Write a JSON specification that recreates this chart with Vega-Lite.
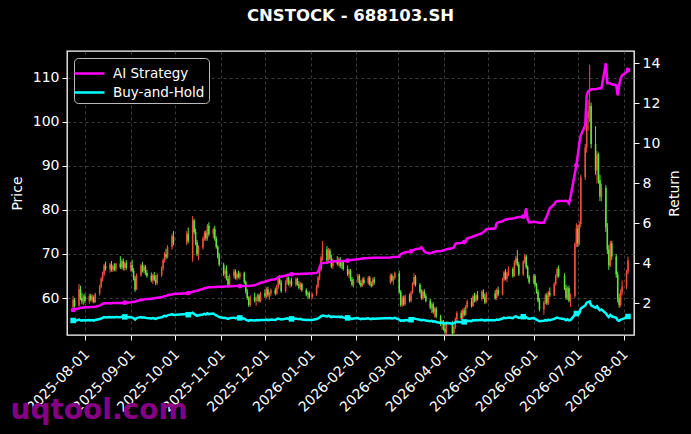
{
  "$schema": "https://vega.github.io/schema/vega-lite/v6.json",
  "width": 567,
  "height": 284,
  "autosize": {"type": "none"},
  "padding": {"left": 67, "top": 51, "right": 57, "bottom": 99},
  "background": "black",
  "title": {"text": "CNSTOCK - 688103.SH", "color": "white", "fontSize": 16.5, "fontWeight": "bold", "font": "DejaVu Sans", "offset": 27, "frame": "group"},
  "data": {
    "values": [
      {"d":"2025-07-24","o":58.0,"h":60.5,"l":57.5,"c":59.6,"ai":1.67,"bh":1.14},
      {"d":"2025-07-25","o":59.6,"h":60.0,"l":57.8,"c":58.2,"ai":1.70,"bh":1.11},
      {"d":"2025-07-28","o":58.3,"h":63.2,"l":58.0,"c":62.0,"ai":1.74,"bh":1.19},
      {"d":"2025-07-29","o":62.0,"h":62.8,"l":59.5,"c":60.0,"ai":1.78,"bh":1.15},
      {"d":"2025-07-30","o":60.0,"h":61.2,"l":58.6,"c":59.2,"ai":1.78,"bh":1.13},
      {"d":"2025-07-31","o":59.2,"h":60.8,"l":58.4,"c":60.4,"ai":1.79,"bh":1.16},
      {"d":"2025-08-01","o":60.4,"h":61.0,"l":58.8,"c":59.3,"ai":1.80,"bh":1.14},
      {"d":"2025-08-04","o":59.3,"h":60.9,"l":58.7,"c":60.5,"ai":1.80,"bh":1.16},
      {"d":"2025-08-05","o":60.5,"h":61.0,"l":59.2,"c":59.6,"ai":1.81,"bh":1.14},
      {"d":"2025-08-06","o":59.6,"h":60.8,"l":59.0,"c":60.2,"ai":1.81,"bh":1.16},
      {"d":"2025-08-07","o":60.2,"h":60.6,"l":58.8,"c":59.1,"ai":1.82,"bh":1.13},
      {"d":"2025-08-08","o":59.1,"h":61.2,"l":58.9,"c":60.9,"ai":1.83,"bh":1.17},
      {"d":"2025-08-11","o":61.0,"h":63.0,"l":60.6,"c":62.6,"ai":1.88,"bh":1.21},
      {"d":"2025-08-12","o":62.6,"h":64.8,"l":62.2,"c":64.3,"ai":1.93,"bh":1.24},
      {"d":"2025-08-13","o":64.3,"h":66.0,"l":63.8,"c":65.4,"ai":1.97,"bh":1.27},
      {"d":"2025-08-14","o":65.4,"h":67.8,"l":65.0,"c":67.3,"ai":2.00,"bh":1.31},
      {"d":"2025-08-15","o":67.3,"h":68.3,"l":66.2,"c":66.6,"ai":2.00,"bh":1.29},
      {"d":"2025-08-18","o":66.6,"h":68.0,"l":65.8,"c":67.6,"ai":2.00,"bh":1.31},
      {"d":"2025-08-19","o":67.6,"h":68.4,"l":66.0,"c":66.4,"ai":2.00,"bh":1.29},
      {"d":"2025-08-20","o":66.4,"h":67.6,"l":65.9,"c":67.2,"ai":2.01,"bh":1.31},
      {"d":"2025-08-21","o":67.2,"h":67.9,"l":66.1,"c":66.5,"ai":2.01,"bh":1.29},
      {"d":"2025-08-22","o":66.5,"h":68.0,"l":66.0,"c":67.8,"ai":2.01,"bh":1.32},
      {"d":"2025-08-25","o":67.8,"h":69.5,"l":66.6,"c":67.0,"ai":2.02,"bh":1.30},
      {"d":"2025-08-26","o":67.0,"h":68.8,"l":66.5,"c":68.4,"ai":2.02,"bh":1.33},
      {"d":"2025-08-27","o":68.4,"h":69.0,"l":66.3,"c":66.8,"ai":2.02,"bh":1.30},
      {"d":"2025-08-28","o":66.8,"h":68.2,"l":66.2,"c":67.9,"ai":2.03,"bh":1.32},
      {"d":"2025-08-29","o":67.9,"h":68.6,"l":66.4,"c":66.9,"ai":2.03,"bh":1.30},
      {"d":"2025-09-01","o":66.9,"h":68.2,"l":66.0,"c":67.5,"ai":2.05,"bh":1.31},
      {"d":"2025-09-02","o":67.5,"h":68.7,"l":65.8,"c":66.2,"ai":2.06,"bh":1.28},
      {"d":"2025-09-03","o":66.2,"h":66.8,"l":64.0,"c":64.5,"ai":2.06,"bh":1.25},
      {"d":"2025-09-04","o":64.5,"h":65.0,"l":61.4,"c":61.9,"ai":2.07,"bh":1.19},
      {"d":"2025-09-05","o":62.0,"h":65.6,"l":61.8,"c":65.2,"ai":2.12,"bh":1.26},
      {"d":"2025-09-08","o":65.2,"h":67.8,"l":64.8,"c":67.4,"ai":2.16,"bh":1.31},
      {"d":"2025-09-09","o":67.4,"h":68.2,"l":65.8,"c":66.2,"ai":2.17,"bh":1.28},
      {"d":"2025-09-10","o":66.2,"h":67.6,"l":65.6,"c":67.1,"ai":2.19,"bh":1.30},
      {"d":"2025-09-11","o":67.1,"h":67.5,"l":65.2,"c":65.7,"ai":2.20,"bh":1.27},
      {"d":"2025-09-12","o":65.7,"h":66.4,"l":64.6,"c":65.0,"ai":2.21,"bh":1.26},
      {"d":"2025-09-15","o":65.0,"h":65.8,"l":63.6,"c":64.0,"ai":2.22,"bh":1.24},
      {"d":"2025-09-16","o":64.0,"h":65.5,"l":63.2,"c":65.1,"ai":2.24,"bh":1.26},
      {"d":"2025-09-17","o":65.1,"h":65.9,"l":63.8,"c":64.2,"ai":2.25,"bh":1.24},
      {"d":"2025-09-18","o":64.2,"h":65.2,"l":62.9,"c":63.4,"ai":2.26,"bh":1.22},
      {"d":"2025-09-19","o":63.4,"h":65.6,"l":63.0,"c":65.2,"ai":2.28,"bh":1.26},
      {"d":"2025-09-22","o":65.2,"h":67.2,"l":64.8,"c":66.8,"ai":2.30,"bh":1.30},
      {"d":"2025-09-23","o":66.8,"h":69.0,"l":66.2,"c":68.6,"ai":2.33,"bh":1.34},
      {"d":"2025-09-24","o":68.6,"h":70.5,"l":68.0,"c":70.0,"ai":2.36,"bh":1.37},
      {"d":"2025-09-25","o":70.0,"h":71.2,"l":68.8,"c":69.3,"ai":2.37,"bh":1.35},
      {"d":"2025-09-26","o":69.3,"h":72.0,"l":69.0,"c":71.6,"ai":2.40,"bh":1.40},
      {"d":"2025-09-29","o":71.6,"h":74.6,"l":71.0,"c":74.0,"ai":2.44,"bh":1.45},
      {"d":"2025-09-30","o":74.0,"h":75.2,"l":72.0,"c":72.6,"ai":2.46,"bh":1.42},
      {"d":"2025-10-09","o":72.6,"h":75.2,"l":72.0,"c":74.6,"ai":2.50,"bh":1.47},
      {"d":"2025-10-10","o":74.6,"h":76.0,"l":72.4,"c":73.0,"ai":2.51,"bh":1.43},
      {"d":"2025-10-13","o":69.0,"h":78.6,"l":68.2,"c":77.6,"ai":2.58,"bh":1.53},
      {"d":"2025-10-14","o":77.6,"h":78.0,"l":74.5,"c":75.0,"ai":2.60,"bh":1.47},
      {"d":"2025-10-15","o":75.0,"h":75.8,"l":72.0,"c":72.6,"ai":2.61,"bh":1.42},
      {"d":"2025-10-16","o":72.6,"h":73.2,"l":69.5,"c":70.0,"ai":2.62,"bh":1.37},
      {"d":"2025-10-17","o":70.0,"h":72.0,"l":68.6,"c":71.5,"ai":2.66,"bh":1.40},
      {"d":"2025-10-20","o":71.5,"h":74.0,"l":71.0,"c":73.6,"ai":2.72,"bh":1.44},
      {"d":"2025-10-21","o":73.6,"h":75.2,"l":73.0,"c":74.8,"ai":2.75,"bh":1.47},
      {"d":"2025-10-22","o":74.8,"h":75.4,"l":73.0,"c":73.5,"ai":2.76,"bh":1.44},
      {"d":"2025-10-23","o":73.5,"h":76.8,"l":73.0,"c":76.4,"ai":2.79,"bh":1.50},
      {"d":"2025-10-24","o":76.4,"h":77.2,"l":74.0,"c":74.5,"ai":2.80,"bh":1.46},
      {"d":"2025-10-27","o":74.5,"h":76.0,"l":73.6,"c":75.6,"ai":2.81,"bh":1.49},
      {"d":"2025-10-28","o":75.6,"h":76.4,"l":73.0,"c":73.4,"ai":2.82,"bh":1.44},
      {"d":"2025-10-29","o":73.4,"h":74.0,"l":71.2,"c":71.6,"ai":2.82,"bh":1.40},
      {"d":"2025-10-30","o":71.6,"h":72.0,"l":69.0,"c":69.4,"ai":2.83,"bh":1.35},
      {"d":"2025-10-31","o":69.4,"h":70.2,"l":67.2,"c":67.6,"ai":2.83,"bh":1.31},
      {"d":"2025-11-03","o":67.6,"h":68.0,"l":65.0,"c":65.5,"ai":2.83,"bh":1.27},
      {"d":"2025-11-04","o":65.5,"h":66.8,"l":64.5,"c":66.2,"ai":2.84,"bh":1.28},
      {"d":"2025-11-05","o":66.2,"h":67.4,"l":64.0,"c":64.4,"ai":2.84,"bh":1.25},
      {"d":"2025-11-06","o":64.4,"h":65.0,"l":62.4,"c":63.0,"ai":2.84,"bh":1.22},
      {"d":"2025-11-07","o":63.0,"h":65.4,"l":62.8,"c":65.0,"ai":2.85,"bh":1.26},
      {"d":"2025-11-10","o":65.0,"h":66.6,"l":64.4,"c":66.0,"ai":2.86,"bh":1.28},
      {"d":"2025-11-11","o":66.0,"h":66.5,"l":64.2,"c":64.6,"ai":2.86,"bh":1.25},
      {"d":"2025-11-12","o":64.6,"h":65.8,"l":64.0,"c":65.4,"ai":2.86,"bh":1.27},
      {"d":"2025-11-13","o":65.4,"h":66.2,"l":64.4,"c":64.8,"ai":2.86,"bh":1.25},
      {"d":"2025-11-14","o":64.8,"h":66.0,"l":64.2,"c":65.7,"ai":2.86,"bh":1.27},
      {"d":"2025-11-17","o":65.7,"h":66.0,"l":63.2,"c":63.6,"ai":2.86,"bh":1.23},
      {"d":"2025-11-18","o":63.6,"h":64.0,"l":61.0,"c":61.4,"ai":2.86,"bh":1.18},
      {"d":"2025-11-19","o":61.4,"h":62.0,"l":59.6,"c":60.0,"ai":2.86,"bh":1.15},
      {"d":"2025-11-20","o":60.0,"h":60.4,"l":58.0,"c":58.4,"ai":2.86,"bh":1.12},
      {"d":"2025-11-21","o":58.4,"h":60.6,"l":58.0,"c":60.2,"ai":2.88,"bh":1.16},
      {"d":"2025-11-24","o":60.2,"h":61.2,"l":59.0,"c":59.4,"ai":2.90,"bh":1.14},
      {"d":"2025-11-25","o":59.4,"h":60.4,"l":58.2,"c":60.0,"ai":2.93,"bh":1.15},
      {"d":"2025-11-26","o":60.0,"h":61.0,"l":59.2,"c":60.6,"ai":2.96,"bh":1.16},
      {"d":"2025-11-27","o":60.6,"h":61.0,"l":59.0,"c":59.3,"ai":2.99,"bh":1.14},
      {"d":"2025-11-28","o":59.3,"h":61.4,"l":59.0,"c":61.0,"ai":3.03,"bh":1.17},
      {"d":"2025-12-01","o":61.0,"h":62.0,"l":60.0,"c":60.4,"ai":3.08,"bh":1.16},
      {"d":"2025-12-02","o":60.4,"h":62.4,"l":60.0,"c":62.0,"ai":3.11,"bh":1.19},
      {"d":"2025-12-03","o":62.0,"h":62.6,"l":60.2,"c":60.6,"ai":3.13,"bh":1.16},
      {"d":"2025-12-04","o":60.6,"h":61.4,"l":59.6,"c":61.0,"ai":3.15,"bh":1.17},
      {"d":"2025-12-05","o":61.0,"h":62.2,"l":60.4,"c":61.8,"ai":3.18,"bh":1.19},
      {"d":"2025-12-08","o":61.8,"h":62.4,"l":60.6,"c":61.0,"ai":3.20,"bh":1.17},
      {"d":"2025-12-09","o":61.0,"h":63.0,"l":60.8,"c":62.6,"ai":3.24,"bh":1.21},
      {"d":"2025-12-10","o":62.6,"h":64.6,"l":62.0,"c":64.2,"ai":3.30,"bh":1.24},
      {"d":"2025-12-11","o":64.2,"h":65.2,"l":63.0,"c":63.4,"ai":3.33,"bh":1.22},
      {"d":"2025-12-12","o":63.4,"h":64.0,"l":61.2,"c":61.6,"ai":3.34,"bh":1.19},
      {"d":"2025-12-15","o":61.6,"h":64.0,"l":61.2,"c":63.6,"ai":3.38,"bh":1.23},
      {"d":"2025-12-16","o":63.6,"h":65.0,"l":63.0,"c":64.6,"ai":3.42,"bh":1.25},
      {"d":"2025-12-17","o":64.6,"h":64.9,"l":62.8,"c":63.2,"ai":3.43,"bh":1.22},
      {"d":"2025-12-18","o":63.2,"h":64.2,"l":62.4,"c":63.8,"ai":3.44,"bh":1.23},
      {"d":"2025-12-19","o":63.8,"h":64.6,"l":62.6,"c":63.0,"ai":3.45,"bh":1.22},
      {"d":"2025-12-22","o":63.0,"h":64.7,"l":62.6,"c":64.3,"ai":3.46,"bh":1.24},
      {"d":"2025-12-23","o":64.3,"h":64.6,"l":62.8,"c":63.1,"ai":3.46,"bh":1.22},
      {"d":"2025-12-24","o":63.1,"h":63.8,"l":62.0,"c":62.4,"ai":3.47,"bh":1.20},
      {"d":"2025-12-25","o":62.4,"h":63.6,"l":61.8,"c":63.2,"ai":3.47,"bh":1.22},
      {"d":"2025-12-26","o":63.2,"h":63.5,"l":61.4,"c":61.8,"ai":3.48,"bh":1.19},
      {"d":"2025-12-29","o":61.8,"h":62.2,"l":60.4,"c":60.8,"ai":3.48,"bh":1.17},
      {"d":"2025-12-30","o":60.8,"h":61.6,"l":59.8,"c":61.2,"ai":3.49,"bh":1.18},
      {"d":"2025-12-31","o":61.2,"h":61.5,"l":59.8,"c":60.2,"ai":3.49,"bh":1.16},
      {"d":"2026-01-02","o":60.2,"h":61.2,"l":59.8,"c":60.9,"ai":3.50,"bh":1.17},
      {"d":"2026-01-05","o":60.9,"h":63.0,"l":60.5,"c":62.6,"ai":3.52,"bh":1.21},
      {"d":"2026-01-06","o":62.6,"h":65.0,"l":62.2,"c":64.6,"ai":3.58,"bh":1.25},
      {"d":"2026-01-07","o":64.6,"h":67.0,"l":64.0,"c":66.5,"ai":3.80,"bh":1.29},
      {"d":"2026-01-08","o":66.5,"h":69.6,"l":66.0,"c":69.2,"ai":3.98,"bh":1.35},
      {"d":"2026-01-09","o":69.2,"h":72.9,"l":68.5,"c":71.0,"ai":4.02,"bh":1.39},
      {"d":"2026-01-12","o":71.0,"h":71.8,"l":68.0,"c":68.6,"ai":4.03,"bh":1.34},
      {"d":"2026-01-13","o":68.6,"h":71.4,"l":68.2,"c":70.8,"ai":4.06,"bh":1.38},
      {"d":"2026-01-14","o":70.8,"h":71.2,"l":68.6,"c":69.0,"ai":4.07,"bh":1.35},
      {"d":"2026-01-15","o":69.0,"h":69.8,"l":66.8,"c":67.2,"ai":4.08,"bh":1.31},
      {"d":"2026-01-16","o":67.2,"h":69.0,"l":66.6,"c":68.6,"ai":4.10,"bh":1.34},
      {"d":"2026-01-19","o":68.6,"h":69.5,"l":67.4,"c":67.8,"ai":4.10,"bh":1.32},
      {"d":"2026-01-20","o":67.8,"h":69.2,"l":67.2,"c":68.8,"ai":4.11,"bh":1.34},
      {"d":"2026-01-21","o":68.8,"h":69.3,"l":66.8,"c":67.2,"ai":4.12,"bh":1.31},
      {"d":"2026-01-22","o":67.2,"h":68.6,"l":66.6,"c":68.2,"ai":4.12,"bh":1.33},
      {"d":"2026-01-23","o":68.2,"h":68.6,"l":66.2,"c":66.6,"ai":4.12,"bh":1.29},
      {"d":"2026-01-26","o":66.6,"h":67.4,"l":65.0,"c":65.4,"ai":4.13,"bh":1.27},
      {"d":"2026-01-27","o":65.4,"h":66.6,"l":64.6,"c":66.2,"ai":4.15,"bh":1.28},
      {"d":"2026-01-28","o":66.2,"h":66.6,"l":63.8,"c":64.2,"ai":4.16,"bh":1.24},
      {"d":"2026-01-29","o":64.2,"h":64.8,"l":62.6,"c":63.0,"ai":4.17,"bh":1.22},
      {"d":"2026-01-30","o":63.0,"h":64.4,"l":62.4,"c":64.0,"ai":4.18,"bh":1.24},
      {"d":"2026-02-02","o":64.0,"h":65.5,"l":63.4,"c":65.0,"ai":4.20,"bh":1.26},
      {"d":"2026-02-03","o":65.0,"h":65.4,"l":63.0,"c":63.4,"ai":4.22,"bh":1.22},
      {"d":"2026-02-04","o":63.4,"h":64.0,"l":62.4,"c":62.8,"ai":4.23,"bh":1.21},
      {"d":"2026-02-05","o":62.8,"h":64.6,"l":62.5,"c":64.2,"ai":4.24,"bh":1.24},
      {"d":"2026-02-06","o":64.2,"h":64.8,"l":63.0,"c":63.4,"ai":4.25,"bh":1.22},
      {"d":"2026-02-09","o":63.4,"h":65.0,"l":63.0,"c":64.6,"ai":4.26,"bh":1.25},
      {"d":"2026-02-10","o":64.6,"h":65.0,"l":62.8,"c":63.2,"ai":4.27,"bh":1.22},
      {"d":"2026-02-11","o":63.2,"h":63.8,"l":62.4,"c":62.8,"ai":4.27,"bh":1.21},
      {"d":"2026-02-12","o":62.8,"h":64.6,"l":62.6,"c":64.2,"ai":4.28,"bh":1.24},
      {"d":"2026-02-13","o":64.2,"h":64.8,"l":63.0,"c":63.5,"ai":4.28,"bh":1.23},
      {"d":"2026-02-24","o":63.5,"h":65.5,"l":63.2,"c":65.1,"ai":4.29,"bh":1.26},
      {"d":"2026-02-25","o":65.1,"h":65.6,"l":63.6,"c":64.0,"ai":4.30,"bh":1.24},
      {"d":"2026-02-26","o":64.0,"h":65.0,"l":63.0,"c":64.6,"ai":4.31,"bh":1.25},
      {"d":"2026-02-27","o":64.6,"h":66.0,"l":64.2,"c":65.6,"ai":4.32,"bh":1.27},
      {"d":"2026-03-02","o":65.6,"h":66.2,"l":61.0,"c":61.4,"ai":4.33,"bh":1.18},
      {"d":"2026-03-03","o":61.4,"h":61.8,"l":58.0,"c":58.4,"ai":4.46,"bh":1.12},
      {"d":"2026-03-04","o":58.4,"h":60.4,"l":58.0,"c":60.0,"ai":4.50,"bh":1.15},
      {"d":"2026-03-05","o":60.0,"h":60.6,"l":58.2,"c":58.6,"ai":4.52,"bh":1.12},
      {"d":"2026-03-06","o":58.6,"h":60.8,"l":58.3,"c":60.4,"ai":4.55,"bh":1.16},
      {"d":"2026-03-09","o":60.4,"h":61.0,"l":59.0,"c":59.4,"ai":4.58,"bh":1.14},
      {"d":"2026-03-10","o":59.4,"h":61.6,"l":59.0,"c":61.2,"ai":4.60,"bh":1.18},
      {"d":"2026-03-11","o":61.2,"h":63.6,"l":61.0,"c":63.2,"ai":4.63,"bh":1.22},
      {"d":"2026-03-12","o":63.2,"h":65.6,"l":62.8,"c":64.8,"ai":4.67,"bh":1.25},
      {"d":"2026-03-13","o":64.8,"h":65.2,"l":62.6,"c":63.0,"ai":4.70,"bh":1.22},
      {"d":"2026-03-16","o":63.0,"h":63.4,"l":61.0,"c":61.4,"ai":4.74,"bh":1.18},
      {"d":"2026-03-17","o":61.4,"h":62.0,"l":59.6,"c":60.0,"ai":4.80,"bh":1.15},
      {"d":"2026-03-18","o":60.0,"h":61.8,"l":59.6,"c":61.4,"ai":4.70,"bh":1.18},
      {"d":"2026-03-19","o":61.4,"h":62.0,"l":60.0,"c":60.4,"ai":4.60,"bh":1.16},
      {"d":"2026-03-20","o":60.4,"h":61.0,"l":59.0,"c":59.4,"ai":4.54,"bh":1.14},
      {"d":"2026-03-23","o":59.4,"h":59.8,"l":57.4,"c":57.8,"ai":4.50,"bh":1.10},
      {"d":"2026-03-24","o":57.8,"h":59.0,"l":56.6,"c":58.6,"ai":4.52,"bh":1.12},
      {"d":"2026-03-25","o":58.6,"h":59.0,"l":56.4,"c":56.8,"ai":4.55,"bh":1.08},
      {"d":"2026-03-26","o":56.8,"h":58.0,"l":55.6,"c":57.6,"ai":4.57,"bh":1.10},
      {"d":"2026-03-27","o":57.6,"h":58.0,"l":55.4,"c":55.8,"ai":4.60,"bh":1.06},
      {"d":"2026-03-30","o":55.8,"h":56.2,"l":53.6,"c":54.0,"ai":4.62,"bh":1.02},
      {"d":"2026-03-31","o":54.0,"h":55.0,"l":52.8,"c":54.6,"ai":4.63,"bh":1.04},
      {"d":"2026-04-01","o":54.6,"h":55.0,"l":52.6,"c":53.0,"ai":4.65,"bh":1.00},
      {"d":"2026-04-02","o":53.0,"h":54.4,"l":51.0,"c":52.2,"ai":4.67,"bh":0.98},
      {"d":"2026-04-03","o":52.2,"h":54.6,"l":51.5,"c":54.0,"ai":4.70,"bh":1.02},
      {"d":"2026-04-07","o":54.0,"h":54.8,"l":51.2,"c":52.0,"ai":4.75,"bh":0.98},
      {"d":"2026-04-08","o":52.0,"h":53.8,"l":50.8,"c":53.4,"ai":4.80,"bh":1.01},
      {"d":"2026-04-09","o":53.4,"h":55.6,"l":53.0,"c":55.2,"ai":4.97,"bh":1.05},
      {"d":"2026-04-10","o":55.2,"h":57.0,"l":54.8,"c":56.6,"ai":5.00,"bh":1.08},
      {"d":"2026-04-13","o":56.6,"h":57.2,"l":55.0,"c":55.4,"ai":5.02,"bh":1.05},
      {"d":"2026-04-14","o":55.4,"h":57.6,"l":55.0,"c":57.2,"ai":5.04,"bh":1.09},
      {"d":"2026-04-15","o":57.2,"h":57.8,"l":55.8,"c":56.2,"ai":5.06,"bh":1.07},
      {"d":"2026-04-16","o":56.2,"h":58.4,"l":56.0,"c":58.0,"ai":5.08,"bh":1.11},
      {"d":"2026-04-17","o":58.0,"h":59.6,"l":57.6,"c":59.2,"ai":5.25,"bh":1.13},
      {"d":"2026-04-20","o":59.2,"h":60.0,"l":57.8,"c":58.2,"ai":5.30,"bh":1.11},
      {"d":"2026-04-21","o":58.2,"h":60.8,"l":58.0,"c":60.4,"ai":5.34,"bh":1.16},
      {"d":"2026-04-22","o":60.4,"h":61.2,"l":59.0,"c":59.4,"ai":5.37,"bh":1.14},
      {"d":"2026-04-23","o":59.4,"h":61.0,"l":59.0,"c":60.6,"ai":5.40,"bh":1.16},
      {"d":"2026-04-24","o":60.6,"h":61.6,"l":59.4,"c":59.8,"ai":5.42,"bh":1.15},
      {"d":"2026-04-27","o":59.8,"h":61.8,"l":59.4,"c":61.4,"ai":5.50,"bh":1.18},
      {"d":"2026-04-28","o":61.4,"h":62.0,"l":59.8,"c":60.2,"ai":5.56,"bh":1.16},
      {"d":"2026-04-29","o":60.2,"h":61.0,"l":58.6,"c":59.0,"ai":5.62,"bh":1.13},
      {"d":"2026-04-30","o":59.0,"h":61.4,"l":58.8,"c":61.0,"ai":5.70,"bh":1.17},
      {"d":"2026-05-06","o":61.0,"h":61.8,"l":59.6,"c":60.0,"ai":5.75,"bh":1.15},
      {"d":"2026-05-07","o":60.0,"h":62.2,"l":59.6,"c":61.8,"ai":6.00,"bh":1.19},
      {"d":"2026-05-08","o":61.8,"h":62.6,"l":60.4,"c":60.8,"ai":6.05,"bh":1.17},
      {"d":"2026-05-11","o":60.8,"h":64.6,"l":60.6,"c":64.2,"ai":6.10,"bh":1.24},
      {"d":"2026-05-12","o":64.2,"h":66.2,"l":63.8,"c":65.8,"ai":6.15,"bh":1.28},
      {"d":"2026-05-13","o":65.8,"h":66.6,"l":64.0,"c":64.4,"ai":6.18,"bh":1.25},
      {"d":"2026-05-14","o":64.4,"h":66.0,"l":63.6,"c":65.6,"ai":6.20,"bh":1.27},
      {"d":"2026-05-15","o":65.6,"h":67.2,"l":65.0,"c":66.6,"ai":6.22,"bh":1.29},
      {"d":"2026-05-18","o":66.6,"h":67.0,"l":64.6,"c":65.0,"ai":6.24,"bh":1.26},
      {"d":"2026-05-19","o":65.0,"h":68.6,"l":64.8,"c":68.0,"ai":6.25,"bh":1.32},
      {"d":"2026-05-20","o":68.0,"h":69.6,"l":67.4,"c":69.0,"ai":6.28,"bh":1.35},
      {"d":"2026-05-21","o":69.0,"h":70.9,"l":67.2,"c":67.6,"ai":6.30,"bh":1.31},
      {"d":"2026-05-22","o":67.6,"h":68.2,"l":65.0,"c":65.4,"ai":6.31,"bh":1.27},
      {"d":"2026-05-25","o":65.4,"h":68.6,"l":65.0,"c":68.2,"ai":6.33,"bh":1.33},
      {"d":"2026-05-26","o":68.2,"h":70.0,"l":67.8,"c":69.4,"ai":6.36,"bh":1.35},
      {"d":"2026-05-27","o":69.4,"h":69.8,"l":66.6,"c":67.0,"ai":6.75,"bh":1.30},
      {"d":"2026-05-28","o":67.0,"h":67.4,"l":64.4,"c":64.8,"ai":6.20,"bh":1.25},
      {"d":"2026-05-29","o":64.8,"h":65.2,"l":63.2,"c":63.6,"ai":6.05,"bh":1.23},
      {"d":"2026-06-01","o":63.6,"h":65.4,"l":63.2,"c":65.0,"ai":6.08,"bh":1.26},
      {"d":"2026-06-02","o":65.0,"h":65.4,"l":62.6,"c":63.0,"ai":6.06,"bh":1.22},
      {"d":"2026-06-03","o":63.0,"h":63.4,"l":61.0,"c":61.4,"ai":6.05,"bh":1.18},
      {"d":"2026-06-04","o":61.4,"h":62.0,"l":59.0,"c":59.4,"ai":6.04,"bh":1.14},
      {"d":"2026-06-05","o":59.4,"h":60.0,"l":57.0,"c":57.4,"ai":6.03,"bh":1.10},
      {"d":"2026-06-08","o":57.4,"h":59.4,"l":56.2,"c":59.0,"ai":6.03,"bh":1.13},
      {"d":"2026-06-09","o":59.0,"h":61.0,"l":58.6,"c":60.6,"ai":6.20,"bh":1.16},
      {"d":"2026-06-10","o":60.6,"h":61.2,"l":58.4,"c":58.8,"ai":6.35,"bh":1.13},
      {"d":"2026-06-11","o":58.8,"h":61.6,"l":58.4,"c":61.2,"ai":6.55,"bh":1.18},
      {"d":"2026-06-12","o":61.2,"h":62.4,"l":60.2,"c":60.6,"ai":6.75,"bh":1.16},
      {"d":"2026-06-15","o":60.6,"h":63.6,"l":60.4,"c":63.2,"ai":6.95,"bh":1.22},
      {"d":"2026-06-16","o":63.2,"h":65.4,"l":62.8,"c":65.0,"ai":7.08,"bh":1.26},
      {"d":"2026-06-17","o":65.0,"h":67.0,"l":64.6,"c":66.6,"ai":7.10,"bh":1.29},
      {"d":"2026-06-18","o":66.6,"h":67.4,"l":64.6,"c":65.0,"ai":7.12,"bh":1.26},
      {"d":"2026-06-22","o":65.0,"h":65.6,"l":61.8,"c":62.2,"ai":7.12,"bh":1.20},
      {"d":"2026-06-23","o":62.2,"h":63.0,"l":59.6,"c":60.0,"ai":7.13,"bh":1.15},
      {"d":"2026-06-24","o":60.0,"h":62.6,"l":59.6,"c":62.2,"ai":7.10,"bh":1.20},
      {"d":"2026-06-25","o":62.2,"h":62.8,"l":59.0,"c":59.4,"ai":7.00,"bh":1.14},
      {"d":"2026-06-26","o":59.4,"h":61.0,"l":58.0,"c":60.4,"ai":7.30,"bh":1.16},
      {"d":"2026-06-29","o":60.4,"h":72.6,"l":60.0,"c":72.4,"ai":8.50,"bh":1.42},
      {"d":"2026-06-30","o":72.4,"h":77.0,"l":71.6,"c":75.8,"ai":8.90,"bh":1.49},
      {"d":"2026-07-01","o":75.8,"h":76.6,"l":71.6,"c":72.4,"ai":9.40,"bh":1.42},
      {"d":"2026-07-02","o":72.4,"h":77.4,"l":72.0,"c":76.8,"ai":10.00,"bh":1.51},
      {"d":"2026-07-03","o":76.8,"h":88.0,"l":76.0,"c":87.4,"ai":10.40,"bh":1.74},
      {"d":"2026-07-06","o":87.4,"h":95.0,"l":86.8,"c":94.2,"ai":10.90,"bh":1.89},
      {"d":"2026-07-07","o":94.2,"h":102.0,"l":93.0,"c":100.8,"ai":12.40,"bh":2.03},
      {"d":"2026-07-08","o":100.8,"h":105.0,"l":98.0,"c":102.4,"ai":12.60,"bh":2.06},
      {"d":"2026-07-09","o":102.4,"h":113.0,"l":100.0,"c":103.6,"ai":12.65,"bh":2.09},
      {"d":"2026-07-10","o":103.6,"h":104.4,"l":94.0,"c":95.0,"ai":12.70,"bh":1.90},
      {"d":"2026-07-13","o":95.0,"h":99.0,"l":88.0,"c":89.0,"ai":12.70,"bh":1.78},
      {"d":"2026-07-14","o":89.0,"h":93.4,"l":86.0,"c":92.6,"ai":12.72,"bh":1.85},
      {"d":"2026-07-15","o":92.6,"h":93.0,"l":86.0,"c":86.8,"ai":12.74,"bh":1.73},
      {"d":"2026-07-16","o":86.8,"h":88.0,"l":82.0,"c":83.0,"ai":12.75,"bh":1.65},
      {"d":"2026-07-17","o":83.0,"h":86.0,"l":82.0,"c":85.0,"ai":12.75,"bh":1.69},
      {"d":"2026-07-20","o":85.0,"h":85.6,"l":75.0,"c":76.0,"ai":14.00,"bh":1.50},
      {"d":"2026-07-21","o":76.0,"h":77.0,"l":70.0,"c":71.0,"ai":13.00,"bh":1.39},
      {"d":"2026-07-22","o":71.0,"h":72.0,"l":66.4,"c":67.4,"ai":13.00,"bh":1.31},
      {"d":"2026-07-23","o":67.4,"h":73.0,"l":67.0,"c":72.4,"ai":13.00,"bh":1.42},
      {"d":"2026-07-24","o":72.4,"h":73.0,"l":68.6,"c":69.4,"ai":12.95,"bh":1.35},
      {"d":"2026-07-27","o":69.4,"h":70.0,"l":64.6,"c":65.4,"ai":12.90,"bh":1.27},
      {"d":"2026-07-28","o":65.4,"h":66.0,"l":59.0,"c":60.0,"ai":12.40,"bh":1.15},
      {"d":"2026-07-29","o":60.0,"h":61.0,"l":57.8,"c":58.4,"ai":12.90,"bh":1.12},
      {"d":"2026-07-30","o":58.4,"h":62.0,"l":58.0,"c":61.4,"ai":13.25,"bh":1.18},
      {"d":"2026-07-31","o":61.4,"h":64.0,"l":60.6,"c":62.6,"ai":13.40,"bh":1.21},
      {"d":"2026-08-03","o":62.6,"h":66.4,"l":62.0,"c":66.0,"ai":13.55,"bh":1.28},
      {"d":"2026-08-04","o":66.0,"h":69.4,"l":65.4,"c":68.6,"ai":13.67,"bh":1.34}
    ]
  },
  "encoding": {
    "x": {
      "field": "d",
      "type": "temporal",
      "scale": {
        "type": "utc",
        "domain": [
          {"year": 2025, "month": 7, "date": 23, "hours": 6, "utc": true},
          {"year": 2026, "month": 8, "date": 4, "hours": 16, "utc": true}
        ]
      },
      "axis": {
        "values": [
          {"year": 2025, "month": 8, "date": 1, "utc": true},
          {"year": 2025, "month": 9, "date": 1, "utc": true},
          {"year": 2025, "month": 10, "date": 1, "utc": true},
          {"year": 2025, "month": 11, "date": 1, "utc": true},
          {"year": 2025, "month": 12, "date": 1, "utc": true},
          {"year": 2026, "month": 1, "date": 1, "utc": true},
          {"year": 2026, "month": 2, "date": 1, "utc": true},
          {"year": 2026, "month": 3, "date": 1, "utc": true},
          {"year": 2026, "month": 4, "date": 1, "utc": true},
          {"year": 2026, "month": 5, "date": 1, "utc": true},
          {"year": 2026, "month": 6, "date": 1, "utc": true},
          {"year": 2026, "month": 7, "date": 1, "utc": true},
          {"year": 2026, "month": 8, "date": 1, "utc": true}
        ],
        "labelExpr": "utcFormat(datum.value, '%Y-%m-%d')",
        "labelOverlap": false,
        "labelAngle": -45,
        "labelAlign": "right",
        "labelBaseline": "top",
        "labelPadding": 7,
        "labelOffset": -3,
        "grid": true,
        "title": "uqtool.com",
        "titleColor": "#850085",
        "titleFontSize": 28,
        "titleFontWeight": "bold",
        "titleAlign": "left",
        "titleBaseline": "alphabetic",
        "titleX": -57,
        "titleY": 83
      }
    }
  },
  "layer": [
    {
      "layer": [
        {
          "mark": {"type": "rule", "strokeWidth": 1, "clip": true},
          "encoding": {
            "y": {
              "field": "l",
              "type": "quantitative",
              "scale": {"domain": [51.6, 116.1], "nice": false, "zero": false},
              "axis": {"values": [60, 70, 80, 90, 100, 110], "title": "Price", "grid": true, "titlePadding": 8}
            },
            "y2": {"field": "h"},
            "color": {"condition": {"test": "datum.c >= datum.o", "value": "#f0503c"}, "value": "#5fe83c"}
          }
        },
        {
          "mark": {"type": "bar", "width": 1.5, "clip": true},
          "encoding": {
            "y": {"field": "o", "type": "quantitative"},
            "y2": {"field": "c"},
            "color": {"condition": {"test": "datum.c >= datum.o", "value": "#f0503c"}, "value": "#5fe83c"}
          }
        }
      ]
    },
    {
      "layer": [
        {
          "transform": [{"fold": ["ai", "bh"], "as": ["series", "ret"]}],
          "mark": {"type": "line", "strokeWidth": 2.5, "clip": true},
          "encoding": {
            "y": {
              "field": "ret",
              "type": "quantitative",
              "scale": {"domain": [0.415, 14.615], "nice": false, "zero": false},
              "axis": {"orient": "right", "values": [2, 4, 6, 8, 10, 12, 14], "title": "Return", "grid": false, "titlePadding": 8, "titleAngle": 270, "titleBaseline": "top"}
            },
            "color": {
              "field": "series",
              "type": "nominal",
              "scale": {"domain": ["ai", "bh"], "range": ["#ff00ff", "#00ffff"]},
              "legend": {
                "title": null,
                "orient": "top-left",
                "offset": 7,
                "fillColor": "black",
                "strokeColor": "#bbbbbb",
                "cornerRadius": 4,
                "padding": 4,
                "rowPadding": 1,
                "symbolType": "M-1.5,0H1.5",
                "symbolStrokeWidth": 2.5,
                "symbolSize": 400,
                "labelOffset": 12,
                "labelColor": "white",
                "labelFont": "DejaVu Sans",
                "labelFontSize": 13.5,
                "labelExpr": "datum.label == 'ai' ? 'AI Strategy' : 'Buy-and-Hold'"
              }
            }
          }
        },
        {
          "transform": [
            {"window": [{"op": "row_number", "as": "rn"}]},
            {"filter": "(datum.rn - 1) % 25 == 0"},
            {"fold": ["ai", "bh"], "as": ["series", "ret"]}
          ],
          "mark": {"type": "point", "filled": true, "opacity": 1, "clip": true},
          "encoding": {
            "y": {"field": "ret", "type": "quantitative"},
            "shape": {"condition": {"test": "datum.series == 'ai'", "value": "circle"}, "value": "square"},
            "size": {"condition": {"test": "datum.series == 'ai'", "value": 22}, "value": 30},
            "color": {"condition": {"test": "datum.series == 'ai'", "value": "#ff00ff"}, "value": "#00ffff"}
          }
        }
      ]
    }
  ],
  "resolve": {"scale": {"y": "independent"}},
  "config": {
    "view": {"stroke": "white", "strokeWidth": 1.3},
    "axis": {
      "domain": false,
      "labelColor": "white",
      "labelFont": "DejaVu Sans",
      "labelFontSize": 14,
      "labelPadding": 3,
      "tickColor": "white",
      "tickSize": 5,
      "tickWidth": 1,
      "titleColor": "white",
      "titleFont": "DejaVu Sans",
      "titleFontSize": 14,
      "titleFontWeight": "normal",
      "gridColor": "#555555",
      "gridDash": [3, 3],
      "gridWidth": 0.7
    }
  }
}
